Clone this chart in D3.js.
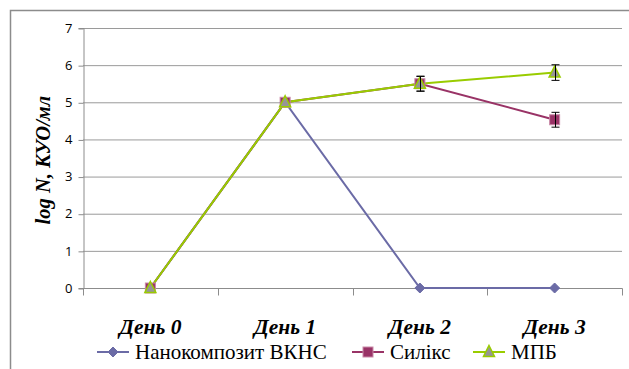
<!DOCTYPE html>
<html>
<head>
<meta charset="utf-8">
<script src="https://cdn.jsdelivr.net/npm/d3@7"></script>
<style>
  html, body { margin: 0; padding: 0; background: #fff; }
  svg { display: block; }
</style>
</head>
<body>
<svg id="chart" width="629" height="369"></svg>
<script>
// Days of observation
const categories = ["День 0", "День 1", "День 2", "День 3"];
// log N values per series
const nanoValues = [0, 5, 0, 0];
const silixValues = [0, 5, 5.5, 4.53];
const mpbValues = [0, 5, 5.5, 5.8];
// Standard errors (shown as error bars)
const silixErrors = [0, 0, 0.2, 0.2];
const mpbErrors = [0, 0, 0.2, 0.21];
const yTicks = [0, 1, 2, 3, 4, 5, 6, 7];

const SERIF = "Liberation Serif";

const series = [
  { name: "Нанокомпозит ВКНС", values: nanoValues, errors: null, line: "#6b6ba6", marker: "diamond", fill: "#6b6ba6", stroke: "#6b6ba6" },
  { name: "Силікс", values: silixValues, errors: silixErrors, line: "#993366", marker: "square", fill: "#993366", stroke: "#c98aa8" },
  { name: "МПБ", values: mpbValues, errors: mpbErrors, line: "#99cc00", marker: "triangle", fill: "#969696", stroke: "#99cc00" }
];

const svg = d3.select("#chart");
const plot = { left: 83, right: 622, top: 28, bottom: 288 };

// Chart area frame
svg.append("rect")
  .attr("x", 10.5).attr("y", 10.5)
  .attr("width", 640).attr("height", 400)
  .attr("fill", "#fff").attr("stroke", "#8c8c8c").attr("stroke-width", 1.5);

const x = d3.scaleBand().domain(categories).range([plot.left, plot.right]);
const y = d3.scaleLinear().domain([0, 7]).range([plot.bottom, plot.top]);

// Horizontal gridlines
svg.append("g").selectAll("line").data(yTicks).join("line")
  .attr("x1", plot.left).attr("x2", plot.right)
  .attr("y1", d => y(d) + 0.5).attr("y2", d => y(d) + 0.5)
  .attr("stroke", "#9a9a9a").attr("stroke-width", 1);

// Y axis
const yAxis = svg.append("g")
  .attr("transform", `translate(${plot.left + 0.5},0)`)
  .call(d3.axisLeft(y).tickValues(yTicks).tickSize(5).tickPadding(6).tickFormat(d3.format("d")));
yAxis.select(".domain").attr("stroke", "#8c8c8c");
yAxis.selectAll(".tick line").attr("stroke", "#8c8c8c").attr("transform", "translate(0,0.5)");
yAxis.selectAll(".tick text")
  .attr("font-family", "Open Sans")
  .attr("font-size", 13).attr("fill", "#000");

// X axis with tick marks between categories
const xAxis = svg.append("g").attr("transform", `translate(0,${plot.bottom + 0.5})`);
xAxis.append("line").attr("x1", plot.left).attr("x2", plot.right + 0.5)
  .attr("stroke", "#8c8c8c");
const boundaries = categories.map(c => x(c)).concat([x.range()[1]]);
xAxis.selectAll("line.tk").data(boundaries).join("line").attr("class", "tk")
  .attr("x1", d => Math.round(d) + 0.5).attr("x2", d => Math.round(d) + 0.5)
  .attr("y1", 0).attr("y2", 7).attr("stroke", "#8c8c8c");
xAxis.selectAll("text").data(categories).join("text")
  .attr("font-family", SERIF)
  .attr("x", d => x(d) + x.bandwidth() / 2).attr("y", 45)
  .attr("text-anchor", "middle")
  .attr("font-weight", "bold").attr("font-style", "italic")
  .attr("font-size", 21.5).attr("fill", "#000")
  .text(d => d);

// Y axis title
svg.append("text")
  .attr("font-family", SERIF)
  .attr("transform", "translate(50,160) rotate(-90)")
  .attr("text-anchor", "middle")
  .attr("font-weight", "bold").attr("font-style", "italic")
  .attr("font-size", 20.5).attr("fill", "#000")
  .text("log N, КУО/мл");

const cx = i => x(categories[i]) + x.bandwidth() / 2;
const lineGen = d3.line().x((d, i) => cx(i)).y(d => y(d));

function drawMarker(g, type, px, py, fill, stroke) {
  if (type === "diamond") {
    g.append("path").attr("d", `M${px},${py - 5}L${px + 5},${py}L${px},${py + 5}L${px - 5},${py}Z`)
      .attr("fill", fill).attr("stroke", stroke);
  } else if (type === "square") {
    g.append("rect").attr("x", px - 5).attr("y", py - 5).attr("width", 10).attr("height", 10)
      .attr("fill", fill).attr("stroke", stroke).attr("stroke-width", 1);
  } else {
    g.append("path").attr("d", `M${px},${py - 6.5}L${px + 5.5},${py + 4.5}L${px - 5.5},${py + 4.5}Z`)
      .attr("fill", fill).attr("stroke", stroke).attr("stroke-width", 1.5);
  }
}

// Series lines, error bars and markers
series.forEach(s => {
  svg.append("path").datum(s.values).attr("d", lineGen)
    .attr("fill", "none").attr("stroke", s.line).attr("stroke-width", 2);
});
series.forEach(s => {
  const g = svg.append("g");
  s.values.forEach((v, i) => drawMarker(g, s.marker, cx(i), y(v), s.fill, s.stroke));
  if (s.errors) {
    s.values.forEach((v, i) => {
      const e = s.errors[i];
      if (!e) return;
      const px = Math.round(cx(i)) + 0.5;
      const y1 = y(v + e), y2 = y(v - e);
      g.append("line").attr("x1", px).attr("x2", px).attr("y1", y1).attr("y2", y2).attr("stroke", "#000");
      g.append("line").attr("x1", px - 4).attr("x2", px + 4).attr("y1", y1).attr("y2", y1).attr("stroke", "#000");
      g.append("line").attr("x1", px - 4).attr("x2", px + 4).attr("y1", y2).attr("y2", y2).attr("stroke", "#000");
    });
  }
});

// Legend
const legendItems = [
  { s: series[0], x0: 97, tx: 135 },
  { s: series[1], x0: 352, tx: 390 },
  { s: series[2], x0: 473, tx: 511 }
];
const ly = 352;
const lg = svg.append("g");
legendItems.forEach(it => {
  lg.append("line").attr("x1", it.x0).attr("x2", it.x0 + 32).attr("y1", ly).attr("y2", ly)
    .attr("stroke", it.s.line).attr("stroke-width", 2);
  drawMarker(lg, it.s.marker, it.x0 + 16, ly, it.s.fill, it.s.stroke);
  lg.append("text").attr("font-family", SERIF).attr("x", it.tx).attr("y", ly + 7)
    .attr("font-size", 21).attr("fill", "#000")
    .text(it.s.name);
});
</script>
</body>
</html>
